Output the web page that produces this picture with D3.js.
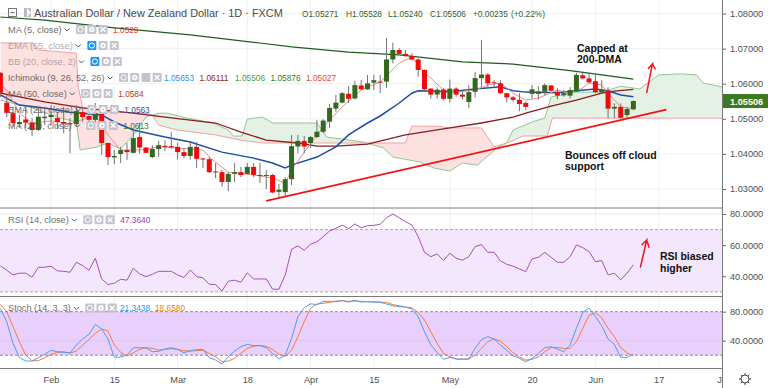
<!DOCTYPE html>
<html>
<head>
<meta charset="utf-8" />
<style>
  html, body { margin: 0; padding: 0; background: #fff; overflow: hidden; }
  svg { display: block; font-family: "Liberation Sans", Arial, sans-serif; }
  .axis text { font-size: 9.2px; fill: #4f4f4f; }
  .axis path, .axis line { stroke: #666; }
  .note { font-size: 10.5px; font-weight: bold; fill: #111; }
</style>
<script src="https://cdn.jsdelivr.net/npm/d3@7"></script>
</head>
<body>
<svg width="768" height="388"></svg>
<script>
// daily candles, leftmost bar first (last one is from the header)
const opens = [1.0631,1.0546,1.0516,1.0485,1.0498,1.0489,1.0468,1.0502,1.0505,1.0502,1.0491,1.0487,1.0485,1.0519,1.0508,1.0497,1.0516,1.0431,1.0390,1.0400,1.0411,1.0403,1.0448,1.0418,1.0391,1.0414,1.0423,1.0422,1.0420,1.0405,1.0394,1.0420,1.0387,1.0385,1.0350,1.0348,1.0320,1.0343,1.0348,1.0343,1.0363,1.0340,1.0340,1.0340,1.0292,1.0291,1.0328,1.0421,1.0437,1.0431,1.0448,1.0463,1.0492,1.0529,1.0546,1.0571,1.0558,1.0595,1.0584,1.0603,1.0606,1.0606,1.0669,1.0696,1.0685,1.0679,1.0669,1.0639,1.0586,1.0569,1.0583,1.0557,1.0586,1.0569,1.0548,1.0577,1.0616,1.0626,1.0604,1.0601,1.0573,1.0561,1.0554,1.0545,1.0571,1.0571,1.0577,1.0595,1.0577,1.0567,1.0566,1.0578,1.0624,1.0615,1.0607,1.0575,1.0580,1.0529,1.0534,1.0511,1.05271];
const highs = [1.0633,1.0568,1.0534,1.0511,1.0534,1.0502,1.0534,1.0534,1.0539,1.0519,1.0534,1.0502,1.0539,1.0534,1.0519,1.0545,1.0534,1.0431,1.0411,1.0420,1.0431,1.0468,1.0489,1.0420,1.0425,1.0437,1.0439,1.0462,1.0431,1.0417,1.0437,1.0434,1.0388,1.0391,1.0374,1.0354,1.0348,1.0374,1.0363,1.0374,1.0374,1.0374,1.0354,1.0343,1.0314,1.0334,1.0454,1.0454,1.0451,1.0451,1.0497,1.0499,1.0542,1.0568,1.0576,1.0593,1.0608,1.0610,1.0625,1.0625,1.0625,1.0730,1.0717,1.0701,1.0696,1.0687,1.0672,1.0641,1.0587,1.0590,1.0587,1.0612,1.0590,1.0577,1.0596,1.0634,1.0725,1.0630,1.0610,1.0610,1.0574,1.0565,1.0573,1.0549,1.0596,1.0593,1.0601,1.0596,1.0587,1.0582,1.0590,1.0631,1.0631,1.0631,1.0625,1.0610,1.0590,1.0544,1.0544,1.0534,1.05528];
const lows = [1.0562,1.0505,1.0477,1.0474,1.0474,1.0451,1.0465,1.0482,1.0482,1.0474,1.0459,1.0402,1.0479,1.0491,1.0488,1.0491,1.0397,1.0368,1.0371,1.0374,1.0383,1.0402,1.0400,1.0402,1.0388,1.0391,1.0408,1.0414,1.0385,1.0388,1.0383,1.0360,1.0360,1.0345,1.0331,1.0306,1.0294,1.0320,1.0334,1.0343,1.0334,1.0317,1.0300,1.0288,1.0277,1.0277,1.0311,1.0402,1.0402,1.0417,1.0445,1.0459,1.0474,1.0520,1.0544,1.0545,1.0555,1.0582,1.0582,1.0582,1.0573,1.0588,1.0658,1.0682,1.0677,1.0667,1.0620,1.0577,1.0558,1.0558,1.0553,1.0546,1.0563,1.0555,1.0530,1.0561,1.0590,1.0587,1.0593,1.0570,1.0547,1.0549,1.0522,1.0525,1.0557,1.0555,1.0568,1.0577,1.0555,1.0563,1.0558,1.0577,1.0612,1.0601,1.0573,1.0573,1.0501,1.0501,1.0501,1.0501,1.05240];
const closes = [1.0574,1.0517,1.0488,1.0491,1.0489,1.0468,1.0506,1.0506,1.0511,1.0491,1.0486,1.0485,1.0522,1.0505,1.0497,1.0516,1.0431,1.0391,1.0394,1.0411,1.0405,1.0445,1.0418,1.0403,1.0414,1.0425,1.0420,1.0420,1.0405,1.0394,1.0420,1.0386,1.0384,1.0348,1.0348,1.0320,1.0343,1.0348,1.0340,1.0363,1.0340,1.0337,1.0337,1.0290,1.0298,1.0328,1.0422,1.0437,1.0421,1.0448,1.0463,1.0495,1.0531,1.0546,1.0573,1.0557,1.0596,1.0584,1.0601,1.0610,1.0603,1.0669,1.0696,1.0685,1.0679,1.0669,1.0639,1.0584,1.0569,1.0583,1.0557,1.0586,1.0569,1.0563,1.0576,1.0616,1.0626,1.0601,1.0602,1.0573,1.0561,1.0554,1.0542,1.0534,1.0584,1.0578,1.0596,1.0580,1.0566,1.0573,1.0582,1.0625,1.0615,1.0604,1.0576,1.0582,1.0529,1.0534,1.0503,1.0528,1.05506];

const ma5Bars = [0,1,3,5,8,11,15,17,19,22,25,28,32,33,36,40,43,45,46,48,51,54,57,60,63,65,67,70,72,75,77,79,81,83,85,88,90,92,93,95,96,98,100];
const ma5Values = [1.0596,1.0582,1.0516,1.0488,1.0494,1.0485,1.0511,1.0454,1.0411,1.0411,1.0420,1.0417,1.0411,1.0391,1.0348,1.0340,1.0331,1.0317,1.0354,1.0405,1.0477,1.0534,1.0582,1.0605,1.0659,1.0676,1.0633,1.0582,1.0576,1.0582,1.0596,1.0602,1.0573,1.0553,1.0559,1.0582,1.0573,1.0588,1.0602,1.0596,1.0573,1.0534,1.0529];

const ema21Bars = [0,3,7,11,16,18,21,26,30,35,40,43,45,46,50,53,55,58,60,63,65,66,71,75,79,81,83,88,91,94,96,98,100];
const ema21Values = [1.0568,1.0539,1.0531,1.0519,1.0511,1.0491,1.0468,1.0448,1.0434,1.0405,1.0388,1.0374,1.0360,1.0368,1.0391,1.0420,1.0454,1.0488,1.0508,1.0545,1.0573,1.0580,1.0577,1.0585,1.0591,1.0580,1.0576,1.0574,1.0580,1.0585,1.0580,1.0568,1.0563];

const ma50Bars = [0,7,13,21,26,34,38,42,47,50,53,58,64,71,76,81,83,87,91,95,97,100];
const ma50Values = [1.0573,1.0548,1.0531,1.0516,1.0505,1.0488,1.0462,1.0439,1.0431,1.0422,1.0422,1.0428,1.0454,1.0474,1.0488,1.0505,1.0516,1.0536,1.0553,1.0573,1.0579,1.0584];

const ma200Bars = [0,7,18,30,41,46,55,63,73,81,90,95,100];
const ma200Values = [1.0790,1.0781,1.0759,1.0739,1.0716,1.0705,1.0690,1.0682,1.0662,1.0656,1.0637,1.0625,1.0613];

const spanABars = [0,5,9.5,12,12.6,15.3,17,19,21,23,25,26.4,29.5,33.6,36,36.8,38.2,39,41.4,43,50,51.6,57.3,60.5,62,66.3,68.4,71,73,75.4,76.3,78.5,80,81,84,86,87,91,95,98,101,104,107.4,110,111,114];
const spanAValues = [1.0553,1.0531,1.0502,1.0491,1.0411,1.0420,1.0431,1.0414,1.0454,1.0505,1.0516,1.0516,1.0502,1.0488,1.0468,1.0451,1.0451,1.0499,1.0505,1.0488,1.0488,1.0448,1.0434,1.0417,1.0391,1.0377,1.0360,1.0351,1.0374,1.0368,1.0383,1.0417,1.0431,1.0468,1.0491,1.0502,1.0562,1.0576,1.0576,1.0593,1.0585,1.0625,1.0628,1.0625,1.0602,1.0591];

const spanBBars = [0,5,6,8,12,12.3,13,17.4,23,24,25,28,34,38,41.5,64,65,69,71,76,78,80.5,82.6,86.4,87.2,114];
const spanBValues = [1.0716,1.0716,1.0696,1.0693,1.0687,1.0591,1.0531,1.0519,1.0516,1.0511,1.0482,1.0468,1.0454,1.0439,1.0431,1.0431,1.0479,1.0479,1.0474,1.0474,1.0420,1.0434,1.0451,1.0451,1.0502,1.0502];

const rsiValues = [46.7,43.9,40.9,42.0,42.0,39.4,45.8,45.8,46.5,43.5,43.2,42.6,49.0,46.9,43.9,51.6,38.3,34.7,35.6,38.1,37.5,45.2,41.5,39.8,41.3,43.2,43.2,43.2,40.9,39.2,44.1,39.8,39.0,34.9,34.7,30.6,36.8,37.5,36.2,42.2,38.3,38.3,38.3,31.7,31.7,40.9,57.4,59.5,56.7,60.6,62.1,65.5,69.1,70.8,72.9,70.6,73.6,71.2,72.5,72.7,73.4,77.6,80.0,77.6,75.1,72.9,65.5,55.4,52.6,54.4,50.1,54.8,51.6,50.3,52.6,59.1,60.3,55.4,55.4,49.9,47.7,46.5,44.7,43.0,51.2,52.2,55.4,52.2,49.0,49.0,52.6,60.1,58.4,55.9,49.4,50.1,40.9,42.0,37.7,42.0,47.4];
const stochK = [84.6,66.2,36.3,16.6,12.0,12.0,16.6,21.1,26.7,24.8,23.9,23.0,34.0,42.3,48.7,62.5,56.1,42.3,17.0,17.5,20.2,30.3,30.3,30.3,24.8,25.3,28.5,30.3,28.0,23.4,26.2,27.6,28.0,16.6,13.3,7.8,17.9,25.7,31.7,34.9,33.1,33.1,30.3,22.5,14.7,20.2,43.2,73.1,85.5,91.0,89.7,94.3,94.3,93.8,95.2,93.3,95.6,93.3,93.8,93.3,92.9,90.6,88.3,86.9,86.4,83.7,73.1,52.4,34.0,23.9,14.3,17.0,14.7,14.7,14.7,29.4,41.4,45.5,42.3,34.0,26.7,19.3,15.6,11.0,15.6,22.5,30.3,31.7,28.5,24.8,34.0,57.0,79.1,85.1,73.1,60.7,42.3,34.9,17.0,17.0,21.3];
const stochD = [90.1,80.0,59.3,38.6,20.2,12.4,12.4,16.6,21.1,23.9,24.8,23.0,25.7,34.0,41.8,50.1,56.1,53.3,34.0,23.9,18.9,23.4,28.0,30.3,29.4,27.1,28.0,29.0,28.0,26.2,25.7,26.2,27.1,22.5,17.9,11.0,12.0,15.6,22.5,29.4,32.2,33.6,32.2,28.0,21.6,18.4,27.1,45.5,66.2,84.6,90.6,91.5,92.9,94.7,95.2,94.3,94.7,94.3,93.8,93.8,93.3,92.9,89.7,88.3,86.4,85.5,79.1,68.5,52.4,36.3,22.5,17.9,14.7,14.3,14.7,20.2,29.4,38.6,42.3,39.5,31.7,23.4,17.5,13.3,14.3,17.9,24.8,30.3,30.8,29.4,29.4,38.6,57.0,74.9,78.6,71.7,57.0,45.5,30.3,23.4,18.7];

const timeTickBars = [8,18,28,39,49,59,71,84,94,104,114];
const timeTickLabels = ["Feb","15","Mar","18","Apr","15","May","20","Jun","17","J"];
const priceTicks = [1.03,1.04,1.05,1.06,1.07,1.08];
const rsiTicks = [40,60,80];
const stochTicks = [40,80];

// hand drawn trend line and arrows
const trendBars = [42,105.2];
const trendPrices = [1.0266,1.0526];
const priceArrowBars = [102.1,103,102.3,103,103.5];
const priceArrowValues = [1.0574,1.0656,1.0642,1.0656,1.0641];
const rsiArrowBars = [101.1,102.1,101.3,102.1,102.5];
const rsiArrowValues = [45.6,63.3,60.1,63.3,58.4];

const legendNames = ["MA (5, close)","EMA (55, close)","BB (20, close, 2)","Ichimoku (9, 26, 52, 26)","MA (50, close)","EMA (21, close)","MA (200, close)"];
const legendHidden = [false,true,true,false,false,false,false];
const legendValues = ["1.0529","","","","1.0584","1.0563","1.0613"];
const legendColors = ["#e53935","","","","#b5352f","#2a52a8","#2e7d32"];
const ichimokuValues = ["1.05653","1.06111","1.05506","1.05876","1.05027"];
const ichimokuColors = ["#2196f3","#8e1c1c","#43a047","#2e7d32","#f44336"];
const headerLabels = ["O1.05271","H1.05528","L1.05240","C1.05506","+0.00235","(+0.22%)"];
const rsiLegendValue = "47.3640";
const stochLegendValues = ["21.3438","18.6580"];

const w = 768;
const h = 388;
const axisX = 722;

const svg = d3.select("svg");
const x = d3.scaleLinear().domain([0, 114]).range([0.4, axisX]);
const yPrice = d3.scaleLinear().domain([1.03, 1.08]).range([189, 13.5]);
const yRsi = d3.scaleLinear().domain([40, 80]).range([276.3, 214]);
const yStoch = d3.scaleLinear().domain([40, 80]).range([340.7, 311.7]);

const addClip = (id, top, bottom) => {
  svg.append("clipPath").attr("id", id).append("rect")
    .attr("x", 0).attr("y", top).attr("width", axisX).attr("height", bottom - top);
};

const lineOn = (yScale) => d3.line().x((d) => x(d[0])).y((d) => yScale(d[1]));

const drawGrid = () => {
  const grid = svg.append("g").attr("stroke", "#eef0f4").attr("stroke-width", 1);
  timeTickBars.forEach((b) => {
    grid.append("line").attr("x1", x(b)).attr("x2", x(b)).attr("y1", 0).attr("y2", 368);
  });
  priceTicks.forEach((t) => {
    grid.append("line").attr("x1", 0).attr("x2", axisX).attr("y1", yPrice(t)).attr("y2", yPrice(t));
  });
};

const drawCloud = (pane) => {
  const a = d3.zip(spanABars, spanAValues);
  const b = d3.zip(spanBBars, spanBValues);
  const line = lineOn(yPrice);
  const poly = line(a.concat(b.slice().reverse())) + "Z";

  const aboveA = d3.area().x((d) => x(d[0])).y0(0).y1((d) => yPrice(d[1]));
  const belowA = d3.area().x((d) => x(d[0])).y0(208).y1((d) => yPrice(d[1]));
  svg.append("clipPath").attr("id", "above-a").append("path").attr("d", aboveA(a));
  svg.append("clipPath").attr("id", "below-a").append("path").attr("d", belowA(a));

  pane.append("path").attr("d", poly).attr("fill", "#fde0e0").attr("clip-path", "url(#above-a)");
  pane.append("path").attr("d", poly).attr("fill", "#e4f1e4").attr("clip-path", "url(#below-a)");
  pane.append("path").attr("d", line(a)).attr("fill", "none").attr("stroke", "#93c793");
  pane.append("path").attr("d", line(b)).attr("fill", "none").attr("stroke", "#f5a0a0");
};

const drawLine = (pane, yScale, bars, values, color, width) => {
  pane.append("path")
    .attr("d", lineOn(yScale)(d3.zip(bars, values)))
    .attr("fill", "none")
    .attr("stroke", color)
    .attr("stroke-width", width);
};

const drawCandles = (pane) => {
  const candles = pane.selectAll(".candle").data(opens).enter().append("g").attr("class", "candle");
  candles.append("line")
    .attr("x1", (d, i) => x(i)).attr("x2", (d, i) => x(i))
    .attr("y1", (d, i) => yPrice(highs[i])).attr("y2", (d, i) => yPrice(lows[i]))
    .attr("stroke", "#737373");
  candles.append("rect")
    .attr("x", (d, i) => x(i) - 2.5).attr("width", 5)
    .attr("y", (d, i) => yPrice(Math.max(d, closes[i])))
    .attr("height", (d, i) => Math.max(1, Math.abs(yPrice(d) - yPrice(closes[i]))))
    .attr("fill", (d, i) => (closes[i] >= d ? "#33691e" : "#f00a0a"));
};

const drawPrice = () => {
  addClip("price-clip", 0, 208);
  const pane = svg.append("g").attr("clip-path", "url(#price-clip)");
  drawCloud(pane);
  drawLine(pane, yPrice, ma200Bars, ma200Values, "#1f5c1f", 1.2);
  drawLine(pane, yPrice, ma50Bars, ma50Values, "#8e1c1c", 1.3);
  drawLine(pane, yPrice, ema21Bars, ema21Values, "#1c4fa8", 1.5);
  drawLine(pane, yPrice, ma5Bars, ma5Values, "#f08a8a", 1);
  drawCandles(pane);
  drawLine(pane, yPrice, trendBars, trendPrices, "#f01414", 1.7);
  drawLine(pane, yPrice, priceArrowBars, priceArrowValues, "#f01414", 1.5);
};

const drawRsi = () => {
  addClip("rsi-clip", 208, 296);
  const pane = svg.append("g").attr("clip-path", "url(#rsi-clip)");
  pane.append("rect").attr("x", 0).attr("width", axisX)
    .attr("y", yRsi(70)).attr("height", yRsi(30) - yRsi(70)).attr("fill", "#f4e7fd");
  rsiTicks.forEach((t) => {
    pane.append("line").attr("x1", 0).attr("x2", axisX).attr("y1", yRsi(t)).attr("y2", yRsi(t)).attr("stroke", "#ebe6f1");
  });
  [70, 30].forEach((t) => {
    pane.append("line").attr("x1", 0).attr("x2", axisX).attr("y1", yRsi(t)).attr("y2", yRsi(t))
      .attr("stroke", "#aaa").attr("stroke-dasharray", "3,2");
  });
  drawLine(pane, yRsi, d3.range(rsiValues.length), rsiValues, "#a64fbd", 1);
  drawLine(pane, yRsi, rsiArrowBars, rsiArrowValues, "#f01414", 1.5);
};

const drawStoch = () => {
  addClip("stoch-clip", 297, 368);
  const pane = svg.append("g").attr("clip-path", "url(#stoch-clip)");
  pane.append("rect").attr("x", 0).attr("width", axisX)
    .attr("y", yStoch(80)).attr("height", yStoch(20) - yStoch(80)).attr("fill", "#e9cffb");
  pane.append("line").attr("x1", 0).attr("x2", axisX).attr("y1", yStoch(40)).attr("y2", yStoch(40)).attr("stroke", "#dfc6f0");
  [80, 20].forEach((t) => {
    pane.append("line").attr("x1", 0).attr("x2", axisX).attr("y1", yStoch(t)).attr("y2", yStoch(t))
      .attr("stroke", "#8a8a8a").attr("stroke-dasharray", "3,2");
  });
  drawLine(pane, yStoch, d3.range(stochD.length), stochD, "#f57c3c", 1);
  drawLine(pane, yStoch, d3.range(stochK.length), stochK, "#4f9df0", 1);
};

const drawAxes = () => {
  const right = (scale, ticks, fmt) => {
    const g = svg.append("g").attr("class", "axis").attr("transform", `translate(${axisX}, 0)`)
      .call(d3.axisRight(scale).tickValues(ticks).tickFormat(d3.format(fmt)).tickSize(4).tickPadding(4));
    g.select(".domain").remove();
  };
  right(yPrice, priceTicks, ".5f");
  right(yRsi, rsiTicks, ".4f");
  right(yStoch, stochTicks, ".4f");

  const bottom = svg.append("g").attr("class", "axis").attr("transform", "translate(0, 368)")
    .call(d3.axisBottom(x).tickValues(timeTickBars).tickFormat((d, i) => timeTickLabels[i]).tickSize(0).tickPadding(8));
  bottom.select(".domain").remove();
  bottom.selectAll("text").filter((d) => d === 114).attr("dx", -3);

  [208, 296.5, 368.5].forEach((yy) => {
    svg.append("line").attr("x1", 0).attr("x2", axisX).attr("y1", yy).attr("y2", yy).attr("stroke", "#7a7a7a");
  });
  svg.append("line").attr("x1", axisX + 0.5).attr("x2", axisX + 0.5).attr("y1", 0).attr("y2", h).attr("stroke", "#7a7a7a");

  // last price tag
  const last = closes[closes.length - 1];
  svg.append("rect").attr("x", axisX + 1).attr("y", yPrice(last) - 7).attr("width", w - axisX).attr("height", 14).attr("fill", "#3b7a1e");
  svg.append("text").attr("x", 730).attr("y", yPrice(last) + 3.5).attr("fill", "#fff")
    .attr("font-size", 9.2).attr("font-weight", "bold").text(d3.format(".5f")(last));

  // settings gear
  const gear = svg.append("g").attr("transform", "translate(745, 379)").attr("stroke", "#444").attr("fill", "none");
  gear.append("circle").attr("r", 4);
  d3.range(8).forEach((i) => {
    const a = (i * Math.PI) / 4;
    gear.append("line").attr("x1", 4 * Math.cos(a)).attr("y1", 4 * Math.sin(a))
      .attr("x2", 6 * Math.cos(a)).attr("y2", 6 * Math.sin(a));
  });
};

const addButton = (g, bx, cy, kind, active) => {
  const b = g.append("g").attr("transform", `translate(${bx}, ${cy - 4.5})`);
  b.append("rect").attr("width", 9).attr("height", 9).attr("rx", 1).attr("fill", active ? "#2196f3" : "#c3c5ce");
  if (kind === 0) b.append("circle").attr("cx", 4.5).attr("cy", 4.5).attr("r", 2.6).attr("fill", "none").attr("stroke", "#fff");
  if (kind === 1) b.append("circle").attr("cx", 4.5).attr("cy", 4.5).attr("r", 1.9).attr("fill", "none").attr("stroke", "#fff").attr("stroke-width", 1.6);
  if (kind === 2) {
    b.append("path").attr("d", "M2.2,2.2L6.8,6.8M6.8,2.2L2.2,6.8").attr("stroke", "#fff").attr("stroke-width", 1.3);
  }
};

// name, chevron and eye/gear buttons, returns x where the buttons start
const addLegendLabel = (g, name, cy, hidden) => {
  const label = g.append("text").attr("x", 8).attr("y", cy + 3).attr("font-size", 9.2)
    .attr("fill", "#555").attr("opacity", hidden ? 0.45 : 0.85).text(name);
  const end = label.node().getComputedTextLength() + 8;
  g.append("path").attr("d", `M${end + 3},${cy - 1}l2.5,2.5l2.5,-2.5`).attr("fill", "none").attr("stroke", "#555");
  const bx = end + 14.5;
  addButton(g, bx, cy, 0, hidden);
  addButton(g, bx + 11.2, cy, 1, false);
  return bx;
};

const addValue = (g, vx, cy, text, color) => {
  g.append("text").attr("x", vx).attr("y", cy + 3).attr("font-size", 8.3).attr("fill", color).text(text);
};

const drawLegend = () => {
  const g = svg.append("g");
  g.append("rect").attr("x", 8.5).attr("y", 8.5).attr("width", 8).attr("height", 8).attr("fill", "none").attr("stroke", "#777");
  g.append("line").attr("x1", 10.5).attr("x2", 14.5).attr("y1", 12.5).attr("y2", 12.5).attr("stroke", "#777");
  g.append("path").attr("d", "M24,8h7v9h-7zM27,8l4,4.5l-4,4.5z").attr("fill", "#b9bcc6").attr("fill-rule", "evenodd");

  g.append("text").attr("x", 34).attr("y", 17).attr("font-size", 10.9).attr("fill", "#4a4a4a")
    .text("Australian Dollar / New Zealand Dollar · 1D · FXCM");

  [302, 346, 388, 430, 473, 511].forEach((hx, i) => {
    g.append("text").attr("x", hx).attr("y", 16.5).attr("font-size", 8.3).attr("fill", "#2f5f2a").text(headerLabels[i]);
  });

  legendNames.forEach((name, i) => {
    const cy = 29.5 + i * 16;
    const row = g.append("g");
    const bx = addLegendLabel(row, name, cy, legendHidden[i]);
    if (i === 3) {
      addButton(row, bx + 22.4, cy, 3, false);
      addButton(row, bx + 33.6, cy, 2, false);
      ichimokuValues.forEach((v, j) => addValue(row, 164 + j * 35.5, cy, v, ichimokuColors[j]));
    } else {
      addButton(row, bx + 22.4, cy, 2, false);
      addValue(row, bx + 37, cy, legendValues[i], legendColors[i]);
    }
  });

  const rsiX = addLegendLabel(g, "RSI (14, close)", 219.7, false);
  addButton(g, rsiX + 22.4, 219.7, 2, false);
  addValue(g, rsiX + 37, 219.7, rsiLegendValue, "#a03cb8");

  const stochX = addLegendLabel(g, "Stoch (14, 3, 3)", 308, false);
  addButton(g, stochX + 22.4, 308, 2, false);
  addValue(g, 120, 308, stochLegendValues[0], "#2196f3");
  addValue(g, 155, 308, stochLegendValues[1], "#f57c00");
};

const drawNotes = () => {
  const note = (tx, ty, text) => svg.append("text").attr("class", "note").attr("x", tx).attr("y", ty).text(text);
  note(577, 52, "Capped at");
  note(577, 63, "200-DMA");
  note(565, 159, "Bounces off cloud");
  note(565, 170, "support");
  note(660, 260, "RSI biased");
  note(660, 271.5, "higher");
};

drawGrid();
drawPrice();
drawRsi();
drawStoch();
drawAxes();
drawLegend();
drawNotes();
</script>
</body>
</html>
